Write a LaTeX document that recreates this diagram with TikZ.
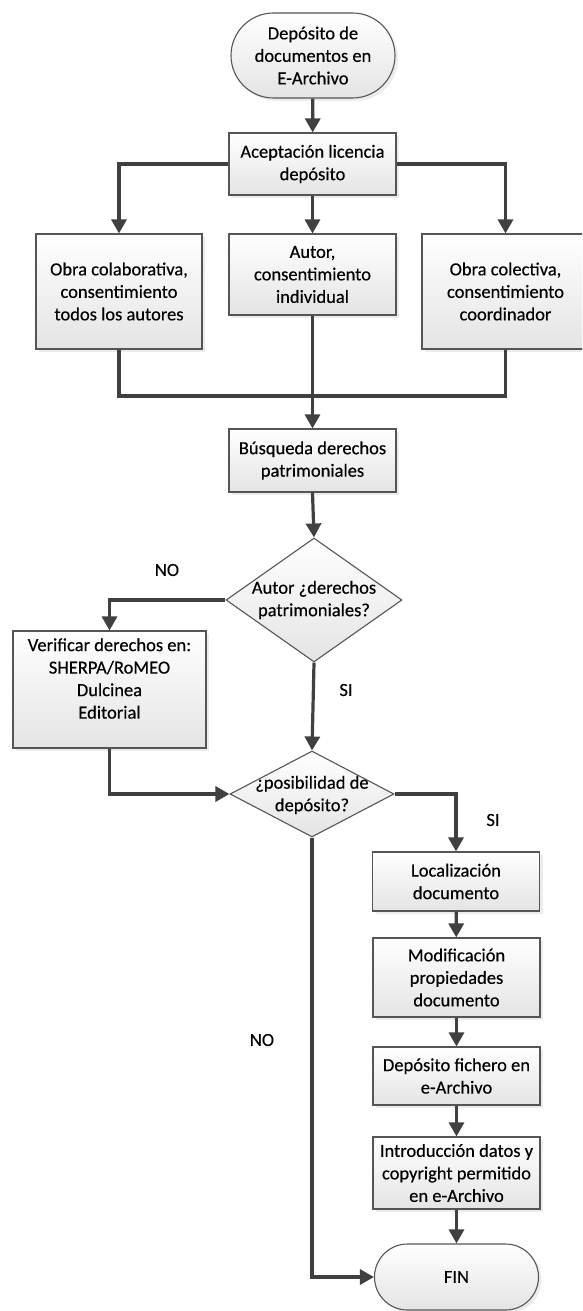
\documentclass[tikz,border=0pt]{standalone}
\usepackage{fontspec}
\setmainfont{Carlito}[FakeBold=0.35]
\usetikzlibrary{arrows.meta,shapes.geometric,shapes.misc,shadows}
\definecolor{linegray}{HTML}{404040}
\definecolor{edgegray}{HTML}{555555}
\definecolor{fillbot}{HTML}{E4E4E4}
\begin{document}
\begin{tikzpicture}[x=1pt,y=-1pt,
  every node/.style={font=\fontsize{18.5}{22.5}\selectfont, text=black},
  boxbase/.style={draw=edgegray, line width=1.1pt, top color=white, bottom color=fillbot,
    drop shadow={shadow xshift=3pt,shadow yshift=-3pt,fill=black!15}, align=center, inner sep=2pt},
  proc/.style={rectangle, boxbase},
  term/.style={rounded rectangle, boxbase},
  dec/.style={diamond, draw=edgegray, line width=1.1pt, top color=white, bottom color=fillbot, inner sep=0pt},
  lbl/.style={align=center},
  link/.style={draw=linegray, line width=3.2pt},
  arr/.style={link, -{Triangle[length=14pt,width=15pt]}},
]
\useasboundingbox (0,0) rectangle (582,1311);
\clip (0,0) rectangle (582,1311);

% nodes
\node[term, minimum width=168pt, minimum height=85pt] (start) at (313,55.5) {Depósito de\\documentos en\\E-Archivo};
\node[proc, minimum width=167pt, minimum height=62pt] (acept) at (312.5,164) {Aceptación licencia\\depósito};
\node[proc, minimum width=166pt, minimum height=115pt] (colab) at (119,291.5) {Obra colaborativa,\\consentimiento\\todos los autores};
\node[proc, minimum width=167pt, minimum height=81pt] (autor) at (312.5,274.5) {Autor,\\consentimiento\\individual};
\node[proc, minimum width=167pt, minimum height=115pt] (colect) at (505.5,291.5) {Obra colectiva,\\consentimiento\\coordinador};
\node[proc, minimum width=167pt, minimum height=63pt] (busq) at (312.5,460.5) {Búsqueda derechos\\patrimoniales};
\node[dec, minimum width=176pt, minimum height=124pt,
      label={[lbl]center:Autor ¿derechos\\patrimoniales?}] (d1) at (314,600) {};
\node[proc, minimum width=193pt, minimum height=117pt,
      label={[lbl,yshift=11pt]center:Verificar derechos en:\\SHERPA/RoMEO\\Dulcinea\\Editorial}] (verif) at (109.5,689.5) {};
\node[dec, minimum width=164pt, minimum height=86pt,
      label={[lbl,yshift=-1pt]center:¿posibilidad de\\depósito?}] (d2) at (312,794) {};
\node[proc, minimum width=167pt, minimum height=59pt] (loc) at (456,881.5) {Localización\\documento};
\node[proc, minimum width=167pt, minimum height=79pt] (modif) at (456.5,977.5) {Modificación\\propiedades\\documento};
\node[proc, minimum width=167pt, minimum height=58pt] (depf) at (456.5,1076) {Depósito fichero en\\e-Archivo};
\node[proc, minimum width=167pt, minimum height=72pt] (intro) at (456.5,1173) {Introducción datos y\\copyright permitido\\en e-Archivo};
\node[term, minimum width=168pt, minimum height=66pt] (fin) at (456.5,1277) {FIN};

% branch labels
\node (no1) at (167,570) {NO};
\node (si1) at (346,690) {SI};
\node (si2) at (493,820) {SI};
\node (no2) at (262,1040) {NO};

% connectors
\coordinate (join) at (312.5,396);
\draw[arr] (start) -- (acept);
\draw[arr] (acept.west) -| (colab.north);
\draw[arr] (acept.east) -| (colect.north);
\draw[arr] (acept.south) -- (autor.north);
\draw[link] (colab.south) |- (join) -| (colect.south);
\draw[arr] (autor.south) -- (busq.north);
\draw[arr] (busq.south) -- (d1.north);
\draw[arr] (d1.west) -| (verif.north);
\draw[arr] (d1.south) -- (d2.north);
\draw[arr] (verif.south) |- (d2.west);
\draw[arr] (d2.east) -| (loc.north);
\draw[arr] (loc) -- (modif);
\draw[arr] (modif) -- (depf);
\draw[arr] (depf) -- (intro);
\draw[arr] (intro) -- (fin);
\draw[arr] (d2.south) |- (fin.west);
\end{tikzpicture}
\end{document}
